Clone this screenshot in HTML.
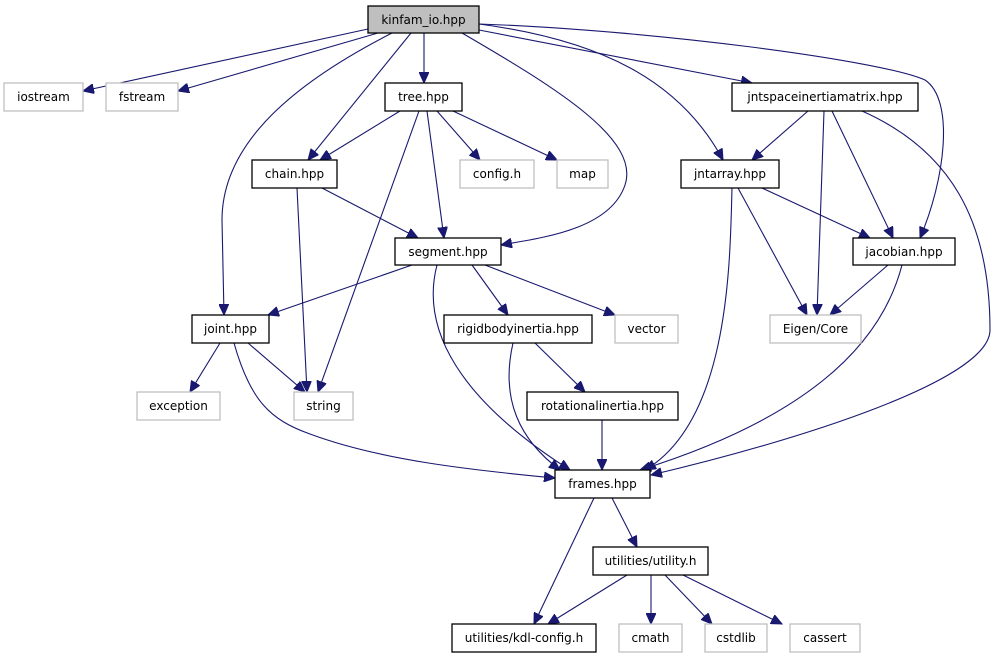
<!DOCTYPE html>
<html><head><meta charset="utf-8"><style>
html,body{margin:0;padding:0;background:#fff;}
svg{display:block;}
text{font-family:"DejaVu Sans","Liberation Sans",sans-serif;font-size:12px;text-anchor:middle;fill:#000;}
.n rect{fill:#fff;stroke:#000;stroke-width:1.3;}
.g rect{fill:#fff;stroke:#bfbfbf;stroke-width:1.3;}
path{fill:none;stroke:#191970;stroke-width:1.1;}
</style></head><body>
<svg width="997" height="659" viewBox="0 0 997 659" xmlns="http://www.w3.org/2000/svg">
<defs>
<marker id="a" markerUnits="userSpaceOnUse" markerWidth="12" markerHeight="10" refX="11" refY="5" orient="auto">
<polygon points="0,0 11,5 0,10" fill="#191970" stroke="#191970"/>
</marker>
</defs>
<g marker-end="url(#a)">
<path d="M368,29 L83,91"/>
<path d="M378,33 L178,91"/>
<path d="M392,33 C300,80 222,140 222,220 L224,315"/>
<path d="M411,33 L308,160"/>
<path d="M424,33 L424,83"/>
<path d="M462,33 C560,90 640,140 625,185 C610,230 540,238 501,245"/>
<path d="M479,24 C600,40 680,80 723,160"/>
<path d="M479,30 L752,83"/>
<path d="M479,24 C650,30 880,60 925,80 C955,100 945,180 920,238"/>
<path d="M400,111 L320,160"/>
<path d="M419,111 L318,392"/>
<path d="M427,111 L444,238"/>
<path d="M437,111 L480,160"/>
<path d="M453,111 L557,160"/>
<path d="M297,188 L307,392"/>
<path d="M322,188 L418,238"/>
<path d="M808,111 L752,160"/>
<path d="M824,111 L817,315"/>
<path d="M832,111 L893,238"/>
<path d="M862,111 C950,150 990,220 990,330 C990,380 800,440 651,475"/>
<path d="M732,188 C730,260 730,420 645,470"/>
<path d="M738,188 L807,315"/>
<path d="M762,188 L870,238"/>
<path d="M888,265 L830,315"/>
<path d="M902,265 C880,350 800,420 640,470"/>
<path d="M412,265 L268,315"/>
<path d="M437,265 C420,330 460,400 570,470"/>
<path d="M472,265 L508,315"/>
<path d="M485,265 L615,315"/>
<path d="M220,343 L190,392"/>
<path d="M248,343 L305,392"/>
<path d="M234,343 C250,400 270,420 310,434 C380,460 470,470 555,478"/>
<path d="M513,343 C500,400 520,440 560,470"/>
<path d="M535,343 L585,392"/>
<path d="M602,420 L602,470"/>
<path d="M594,498 L534,624"/>
<path d="M612,498 L637,547"/>
<path d="M627,575 L548,624"/>
<path d="M651,575 L651,624"/>
<path d="M665,575 L712,624"/>
<path d="M683,575 L782,624"/>
</g>
<g class="n"><rect x="368" y="6" width="111" height="27" style="fill:#bfbfbf"/><text x="423.5" y="24">kinfam_io.hpp</text></g>
<g class="g"><rect x="4" y="83" width="79" height="28"/><text x="43.5" y="101">iostream</text></g>
<g class="g"><rect x="106" y="83" width="72" height="28"/><text x="142" y="101">fstream</text></g>
<g class="n"><rect x="385" y="83" width="77" height="28"/><text x="423.5" y="101">tree.hpp</text></g>
<g class="n"><rect x="732" y="83" width="186" height="28"/><text x="825" y="101">jntspaceinertiamatrix.hpp</text></g>
<g class="n"><rect x="252" y="160" width="85" height="28"/><text x="294.5" y="178">chain.hpp</text></g>
<g class="g"><rect x="460" y="160" width="74" height="28"/><text x="497" y="178">config.h</text></g>
<g class="g"><rect x="557" y="160" width="51" height="28"/><text x="582.5" y="178">map</text></g>
<g class="n"><rect x="681" y="160" width="98" height="28"/><text x="730" y="178">jntarray.hpp</text></g>
<g class="n"><rect x="395" y="238" width="106" height="27"/><text x="448" y="256">segment.hpp</text></g>
<g class="n"><rect x="853" y="238" width="102" height="27"/><text x="904" y="256">jacobian.hpp</text></g>
<g class="n"><rect x="192" y="315" width="77" height="28"/><text x="230.5" y="333">joint.hpp</text></g>
<g class="n"><rect x="444" y="315" width="148" height="28"/><text x="518" y="333">rigidbodyinertia.hpp</text></g>
<g class="g"><rect x="615" y="315" width="63" height="28"/><text x="646.5" y="333">vector</text></g>
<g class="g"><rect x="770" y="315" width="91" height="28"/><text x="815.5" y="333">Eigen/Core</text></g>
<g class="g"><rect x="137" y="392" width="83" height="28"/><text x="178.5" y="410">exception</text></g>
<g class="g"><rect x="294" y="392" width="59" height="28"/><text x="323.5" y="410">string</text></g>
<g class="n"><rect x="527" y="392" width="151" height="28"/><text x="602.5" y="410">rotationalinertia.hpp</text></g>
<g class="n"><rect x="555" y="470" width="95" height="28"/><text x="602.5" y="488">frames.hpp</text></g>
<g class="n"><rect x="593" y="547" width="115" height="28"/><text x="650.5" y="565">utilities/utility.h</text></g>
<g class="n"><rect x="452" y="624" width="144" height="28"/><text x="524" y="642">utilities/kdl-config.h</text></g>
<g class="g"><rect x="619" y="624" width="63" height="28"/><text x="650.5" y="642">cmath</text></g>
<g class="g"><rect x="705" y="624" width="62" height="28"/><text x="736" y="642">cstdlib</text></g>
<g class="g"><rect x="790" y="624" width="70" height="28"/><text x="825" y="642">cassert</text></g>
</svg>
</body></html>
